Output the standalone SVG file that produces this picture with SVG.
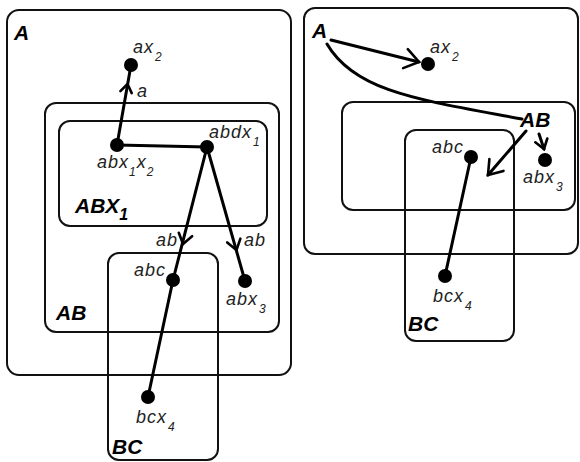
<svg xmlns="http://www.w3.org/2000/svg" width="580" height="462" viewBox="0 0 580 462">
  <style>
    .box { fill: none; stroke: #111; stroke-width: 2; }
    .edge { fill: none; stroke: #000; stroke-width: 3; stroke-linecap: round; }
    .head { fill: none; stroke: #000; stroke-width: 2.6; stroke-linecap: round; stroke-linejoin: miter; }
    .node { fill: #000; }
    .lbl { font-family: "Liberation Sans", Arial, sans-serif; font-style: italic; font-size: 18px; fill: #222; letter-spacing: 1px; }
    .sub { font-size: 12px; }
    .set { font-family: "Liberation Sans", Arial, sans-serif; font-style: italic; font-weight: bold; font-size: 21px; fill: #000; }
  </style>
  <rect width="580" height="462" fill="#fff"/>

  <!-- Left panel: nested regions -->
  <g id="left-A">
    <rect class="box" x="7" y="10" width="284" height="365" rx="12"/>
    <text class="set" x="14" y="40">A</text>
  </g>
  <g id="left-AB">
    <rect class="box" x="45" y="103" width="234" height="229" rx="11"/>
    <text class="set" x="56" y="320">AB</text>
  </g>
  <g id="left-ABX1">
    <rect class="box" x="59" y="121" width="208" height="105" rx="11"/>
    <text class="set" x="75" y="213">ABX<tspan font-size="16" dy="7">1</tspan></text>
  </g>
  <g id="left-BC">
    <rect class="box" x="108" y="253" width="110" height="207" rx="11"/>
    <text class="set" x="112" y="454">BC</text>
  </g>

  <!-- Right panel: nested regions -->
  <g id="right-A">
    <rect class="box" x="304" y="8" width="274" height="246" rx="11"/>
    <text class="set" x="312" y="38">A</text>
  </g>
  <g id="right-AB">
    <rect class="box" x="342" y="102" width="233" height="108" rx="11"/>
    <text class="set" x="520" y="127">AB</text>
  </g>
  <g id="right-BC">
    <rect class="box" x="405" y="130" width="109" height="211" rx="11"/>
    <text class="set" x="408" y="331">BC</text>
  </g>

  <!-- Connectors -->
  <g id="connectors">
    <!-- left -->
    <line class="edge" x1="117" y1="145" x2="131" y2="65"/>
    <polyline class="head" points="120.4,91.1 127.5,84 131.7,93.1"/>
    <line class="edge" x1="117" y1="145" x2="207" y2="147"/>
    <line class="edge" x1="207" y1="147" x2="173" y2="280"/>
    <line class="edge" x1="173" y1="280" x2="148" y2="397"/>
    <polyline class="head" points="192.1,236.2 183,244 178.8,232.8"/>
    <line class="edge" x1="207" y1="147" x2="245" y2="281"/>
    <polyline class="head" points="240.4,238.7 236.5,250 227.2,242.4"/>
    <!-- right -->
    <line class="edge" x1="331" y1="40" x2="419" y2="62"/>
    <polyline class="head" points="407.8,49.2 419,62 403.1,68.1"/>
    <path class="edge" d="M327,44 C355,92 420,100 522,119"/>
    <line class="edge" x1="526" y1="131" x2="488" y2="175"/>
    <polyline class="head" points="503.5,170.9 488,175 489.4,159.1"/>
    <line class="edge" x1="539" y1="134" x2="544" y2="149"/>
    <polyline class="head" points="547.3,138.5 544,149 535.3,142.3"/>
    <line class="edge" x1="471" y1="157" x2="445" y2="276"/>
  </g>

  <!-- Left panel nodes -->
  <g id="l-ax2">
    <circle class="node" cx="131" cy="65" r="7"/>
    <text class="lbl" x="133" y="53">ax<tspan class="sub" dx="1" dy="8">2</tspan></text>
  </g>
  <g id="l-abx1x2">
    <circle class="node" cx="117" cy="145" r="7"/>
    <text class="lbl" x="97" y="168">abx<tspan class="sub" dy="8">1</tspan><tspan dy="-8">x</tspan><tspan class="sub" dy="8">2</tspan></text>
  </g>
  <g id="l-abdx1">
    <circle class="node" cx="207" cy="147" r="7"/>
    <text class="lbl" x="209" y="138">abdx<tspan class="sub" dx="1" dy="8">1</tspan></text>
  </g>
  <g id="l-abc">
    <circle class="node" cx="173" cy="280" r="7"/>
    <text class="lbl" x="134" y="276">abc</text>
  </g>
  <g id="l-abx3">
    <circle class="node" cx="245" cy="281" r="7"/>
    <text class="lbl" x="226" y="305">abx<tspan class="sub" dx="1" dy="8">3</tspan></text>
  </g>
  <g id="l-bcx4">
    <circle class="node" cx="148" cy="397" r="7"/>
    <text class="lbl" x="136" y="423">bcx<tspan class="sub" dx="1" dy="8">4</tspan></text>
  </g>
  <g id="l-edge-labels">
    <text class="lbl" x="137" y="97">a</text>
    <text class="lbl" x="156" y="246">ab</text>
    <text class="lbl" x="244" y="246">ab</text>
  </g>

  <!-- Right panel nodes -->
  <g id="r-ax2">
    <circle class="node" cx="428" cy="64" r="7"/>
    <text class="lbl" x="430" y="53">ax<tspan class="sub" dx="1" dy="8">2</tspan></text>
  </g>
  <g id="r-abc">
    <circle class="node" cx="471" cy="157" r="7"/>
    <text class="lbl" x="432" y="153">abc</text>
  </g>
  <g id="r-abx3">
    <circle class="node" cx="545" cy="160" r="7"/>
    <text class="lbl" x="523" y="183">abx<tspan class="sub" dx="1" dy="8">3</tspan></text>
  </g>
  <g id="r-bcx4">
    <circle class="node" cx="445" cy="276" r="7"/>
    <text class="lbl" x="433" y="302">bcx<tspan class="sub" dx="1" dy="8">4</tspan></text>
  </g>
</svg>
